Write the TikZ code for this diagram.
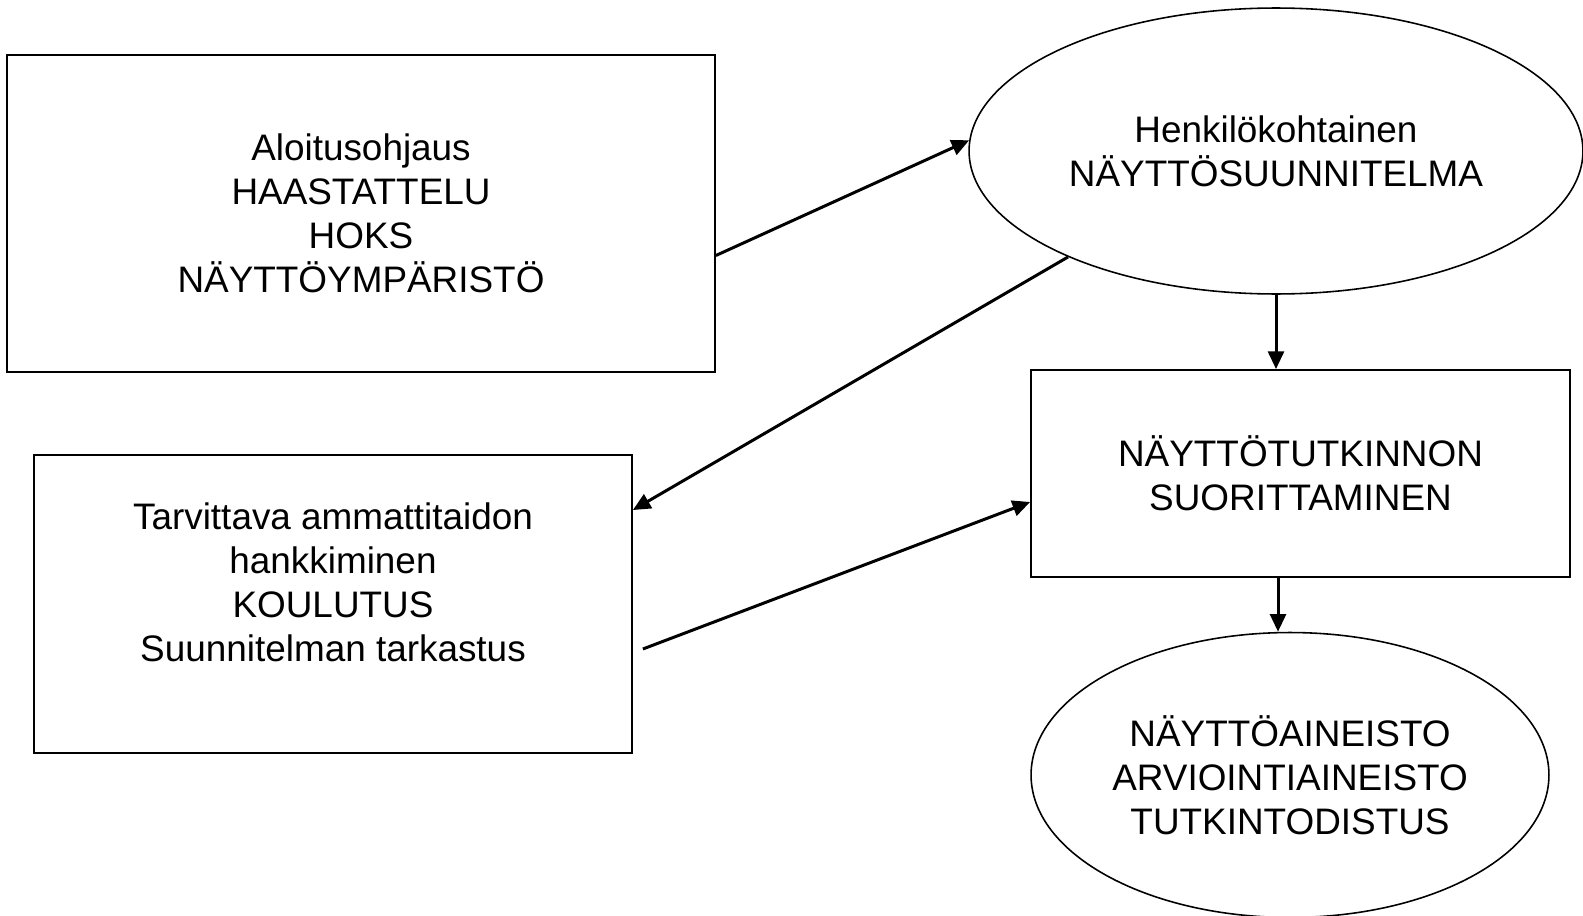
\documentclass[tikz,border=0pt]{standalone}
\usepackage{fontspec}
\setmainfont{Liberation Sans}
\usepackage{tikz}
\usetikzlibrary{shapes.geometric,arrows.meta}
\tikzstyle{box}=[rectangle,draw,line width=1.1pt,fill=white,text=black,align=center,font=\fontsize{21}{25}\selectfont]
\tikzstyle{oval}=[ellipse,draw,line width=0.9pt,inner sep=0pt,align=center,font=\fontsize{21}{25}\selectfont]
\tikzstyle{txt}=[align=center,text=black,font=\fontsize{21}{25}\selectfont]
\tikzstyle{flow}=[->,line width=1.7pt,>={Triangle[length=10pt,width=9pt]}]

\begin{document}
\begin{tikzpicture}[x=0.02cm,y=-0.02cm]

  \useasboundingbox (0,0) rectangle (1583,916);

  \node[box,minimum width=14.16cm,minimum height=6.34cm] (aloitus) at (361,213.5) {Aloitusohjaus\\HAASTATTELU\\HOKS\\NÄYTTÖYMPÄRISTÖ};
  \node[oval,minimum width=12.28cm,minimum height=5.72cm] (suunn) at (1276,151) {Henkilökohtainen\\NÄYTTÖSUUNNITELMA};
  \node[box,minimum width=11.96cm,minimum height=5.96cm] (hank) at (333,604) {};
  \node[txt] (hanktxt) at (333,582) {Tarvittava ammattitaidon\\hankkiminen\\KOULUTUS\\Suunnitelman tarkastus};
  \node[box,minimum width=10.78cm,minimum height=4.14cm] (tutk) at (1300.5,473.5) {NÄYTTÖTUTKINNON\\SUORITTAMINEN};
  \node[oval,minimum width=10.36cm,minimum height=5.7cm] (aineisto) at (1290,775) {NÄYTTÖAINEISTO\\ARVIOINTIAINEISTO\\TUTKINTODISTUS};

  \draw[flow] ([yshift=-0.84cm]aloitus.east)--(suunn.178);
  \draw[flow] (suunn.207)--([yshift=1.88cm]hank.east);
  \draw[flow] ([xshift=0.2cm,yshift=-0.9cm]hank.east)--([yshift=-0.57cm]tutk.west);
  \draw[flow] (suunn.south)--(suunn.south |- tutk.north);
  \draw[flow] ([xshift=-0.45cm]tutk.south)--([xshift=-0.45cm]tutk.south |- aineisto.north);

\end{tikzpicture}
\end{document}
